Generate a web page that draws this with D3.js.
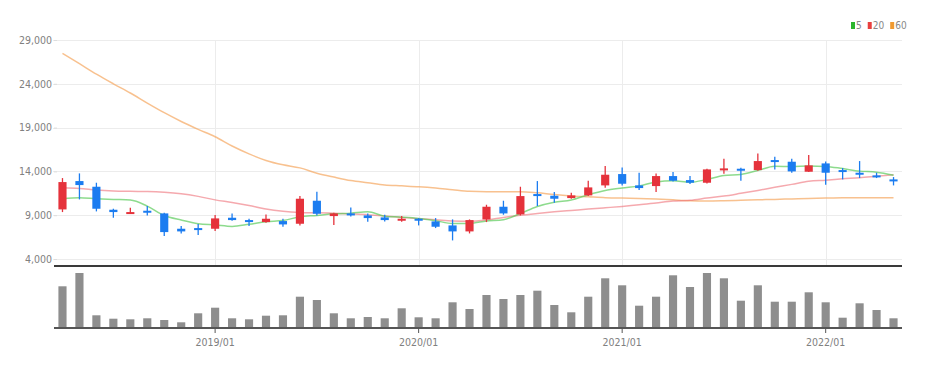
<!DOCTYPE html>
<html>
<head>
<meta charset="utf-8">
<script src="https://cdn.jsdelivr.net/npm/d3@7"></script>
<style>
  body { margin: 0; background: #fff; }
  svg text { font-family: "DejaVu Sans Condensed", "DejaVu Sans", sans-serif; font-stretch: condensed; }
</style>
</head>
<body>
<div id="chart"></div>
<script>
// Monthly candles, 2018/04 - 2022/05
const months = [
  "2018/04","2018/05","2018/06","2018/07","2018/08","2018/09","2018/10","2018/11","2018/12",
  "2019/01","2019/02","2019/03","2019/04","2019/05","2019/06","2019/07","2019/08","2019/09","2019/10","2019/11","2019/12",
  "2020/01","2020/02","2020/03","2020/04","2020/05","2020/06","2020/07","2020/08","2020/09","2020/10","2020/11","2020/12",
  "2021/01","2021/02","2021/03","2021/04","2021/05","2021/06","2021/07","2021/08","2021/09","2021/10","2021/11","2021/12",
  "2022/01","2022/02","2022/03","2022/04","2022/05"
];
const openP = [
  9661,12896,12249,9623,9205,9509,9205,7454,7530,
  7454,8710,8443,8215,8329,8024,10651,8900,9205,8976,8748,8367,
  8596,8291,7834,7150,8519,9966,9090,11412,11221,10955,11260,12402,
  13696,12402,12325,13467,13010,12706,14152,14304,14152,15294,15104,13962,
  14913,14152,13848,13543,13086
];
const highP = [
  13239,13772,12706,9737,9850,10042,9281,7758,7987,
  9014,9205,8596,9090,8596,11183,11678,9281,9890,9205,9052,8900,
  8672,8672,8519,8519,10194,10651,12249,12896,11640,11564,12934,14609,
  14457,13848,13772,13924,13467,14304,15446,14419,16055,15675,15446,15865,
  15142,14381,15180,13848,13353
];
const lowP = [
  9357,10803,9433,8710,9166,8976,6616,6920,6730,
  7187,8367,7758,8140,7682,7834,8976,7872,8862,8253,8291,8253,
  7834,7530,6122,6920,8215,9052,8976,10042,10422,10879,11183,12135,
  12402,11869,11640,12858,12554,12630,13734,12934,14076,14228,13848,13924,
  12478,13086,13239,13239,12402
];
const closeP = [
  12782,12440,9737,9357,9357,9281,7073,7150,7302,
  8634,8443,8291,8595,7948,10879,9166,9205,8976,8672,8443,8596,
  8443,7682,7150,8443,9966,9205,11183,11183,10879,11260,12173,13619,
  12592,12097,13467,12934,12706,14228,14343,14076,15180,15142,14000,14685,
  13848,13924,13696,13429,12896
];
const volume = [
  417,550,127,93,87,97,80,57,147,
  203,97,87,123,127,313,280,147,97,110,97,197,
  107,97,257,190,330,290,330,373,230,157,313,497,
  427,223,313,527,410,550,497,273,427,263,263,357,
  257,103,247,180,97
];
const ma5 = [
  10880,10990,10880,10800,10735,10034,8961,8444,8033,
  7888,7720,7964,8253,8382,8831,8976,9159,9235,9380,8892,8778,
  8626,8367,8063,8063,8337,8489,9189,9996,10483,10742,11336,11823,
  12105,12348,12790,12942,12759,13086,13536,13657,14107,14594,14548,14617,
  14571,14320,14031,13916,13559
];
const ma20 = [
  12130,12060,11870,11760,11720,11700,11620,11450,11150,
  10750,10450,10100,9700,9450,9320,9280,9220,9150,9060,8900,8750,
  8600,8480,8350,8300,8450,8750,9000,9200,9380,9540,9700,9850,
  10000,10180,10400,10620,10700,10950,11180,11500,11830,12180,12520,12880,
  13000,13150,13280,13450,13620
];
const ma60 = [
  27480,26300,25100,24000,22950,21800,20700,19700,18800,
  17950,16900,16000,15250,14750,14400,13800,13350,12950,12700,12450,12350,
  12250,12100,11900,11720,11680,11680,11680,11550,11350,11200,11100,11000,
  10950,10920,10850,10750,10650,10620,10650,10700,10760,10800,10860,10920,
  10950,10980,11000,11000,11000
];
const yTicks = [4000, 9000, 14000, 19000, 24000, 29000];
const xTicks = ["2019/01", "2020/01", "2021/01", "2022/01"];
const legendItems = [
  { label: "5", color: "#2db52d" },
  { label: "20", color: "#e8403f" },
  { label: "60", color: "#f09a30" }
];

const width = 928, height = 369;
const left = 54, right = 902;
const priceTop = 40, priceBottom = 259, sepY = 266;
const volTop = 270, volBottom = 328;

const upColor = "#e5323b";
const downColor = "#1b7cf0";

const svg = d3.select('#chart').append('svg')
  .attr('width', width)
  .attr('height', height);

const x = d3.scaleBand().domain(months).range([left, right]).paddingInner(0.52).paddingOuter(0.26);
const cx = m => x(m) + x.bandwidth() / 2;
const y = d3.scaleLinear().domain([4000, 29000]).range([priceBottom, priceTop]);
const yv = d3.scaleLinear().domain([0, 580]).range([volBottom, volTop]);

// horizontal grid
svg.append('g')
  .selectAll('line')
  .data(yTicks)
  .join('line')
  .attr('x1', left - 1).attr('x2', right)
  .attr('y1', d => Math.round(y(d)) + 0.5).attr('y2', d => Math.round(y(d)) + 0.5)
  .attr('stroke', '#ececec');

// vertical year grid (price pane only)
svg.append('g')
  .selectAll('line')
  .data(xTicks)
  .join('line')
  .attr('x1', d => Math.round(cx(d)) + 0.5).attr('x2', d => Math.round(cx(d)) + 0.5)
  .attr('y1', priceTop).attr('y2', sepY - 1)
  .attr('stroke', '#ececec');

// y axis labels
const yAxis = d3.axisLeft(y)
  .tickValues(yTicks)
  .tickFormat(d3.format(','))
  .tickSize(3)
  .tickPadding(2);
const yg = svg.append('g')
  .attr('transform', `translate(${left + 3}, 0)`)
  .call(yAxis);
yg.select('.domain').remove();
yg.selectAll('.tick line').attr('stroke', '#dddddd');
yg.selectAll('text').attr('fill', '#808080').style('font-size', '10.5px');

// moving averages
const line = d3.line()
  .x((d, i) => cx(months[i]))
  .y(d => y(d))
  .curve(d3.curveMonotoneX);

svg.append('path').datum(ma60)
  .attr('d', line).attr('fill', 'none')
  .attr('stroke', '#f5a660').attr('stroke-opacity', 0.7).attr('stroke-width', 1.5);
svg.append('path').datum(ma20)
  .attr('d', line).attr('fill', 'none')
  .attr('stroke', '#ef6f78').attr('stroke-opacity', 0.6).attr('stroke-width', 1.5);
svg.append('path').datum(ma5)
  .attr('d', line).attr('fill', 'none')
  .attr('stroke', '#5ccc5c').attr('stroke-opacity', 0.7).attr('stroke-width', 1.5);

// candles
const candles = svg.append('g')
  .selectAll('g')
  .data(months)
  .join('g');

candles.append('line')
  .attr('x1', d => cx(d)).attr('x2', d => cx(d))
  .attr('y1', (d, i) => y(highP[i]))
  .attr('y2', (d, i) => y(lowP[i]))
  .attr('stroke', (d, i) => closeP[i] >= openP[i] ? upColor : downColor)
  .attr('stroke-width', 1.3);

candles.append('rect')
  .attr('x', d => x(d))
  .attr('width', x.bandwidth())
  .attr('y', (d, i) => y(Math.max(openP[i], closeP[i])))
  .attr('height', (d, i) => Math.max(2, Math.abs(y(openP[i]) - y(closeP[i]))))
  .attr('fill', (d, i) => closeP[i] >= openP[i] ? upColor : downColor);

// separator between panes
svg.append('line')
  .attr('x1', left).attr('x2', right)
  .attr('y1', sepY).attr('y2', sepY)
  .attr('stroke', '#3a3a3a').attr('stroke-width', 2);

// volume bars
svg.append('g')
  .selectAll('rect')
  .data(months)
  .join('rect')
  .attr('x', d => x(d))
  .attr('width', x.bandwidth())
  .attr('y', (d, i) => yv(volume[i]))
  .attr('height', (d, i) => yv(0) - yv(volume[i]))
  .attr('fill', '#8e8e8e');

// x axis
const xAxis = d3.axisBottom(x)
  .tickValues(xTicks)
  .tickSize(5)
  .tickPadding(6);
const xg = svg.append('g')
  .attr('transform', `translate(0, ${volBottom})`)
  .call(xAxis);
xg.select('.domain').remove();
xg.selectAll('.tick line').attr('stroke', '#555');
xg.selectAll('text').attr('fill', '#808080').style('font-size', '10.5px');

svg.append('line')
  .attr('x1', left).attr('x2', right)
  .attr('y1', volBottom).attr('y2', volBottom)
  .attr('stroke', '#555').attr('stroke-width', 2);

// legend
const legend = svg.append('g').attr('transform', 'translate(851, 22)');
let lx = 0;
legendItems.forEach(item => {
  legend.append('rect')
    .attr('x', lx).attr('y', 0)
    .attr('width', 4).attr('height', 7)
    .attr('fill', item.color);
  const t = legend.append('text')
    .attr('x', lx + 5).attr('y', 7)
    .attr('fill', '#888')
    .style('font-size', '10px')
    .text(item.label);
  lx += 5 + t.node().getComputedTextLength() + 6;
});
</script>
</body>
</html>
